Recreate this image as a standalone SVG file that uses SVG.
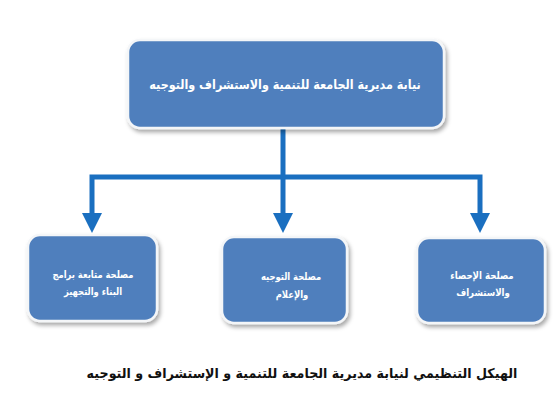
<svg xmlns="http://www.w3.org/2000/svg" width="557" height="400" viewBox="0 0 557 400">
<style>
.box{fill:#4f7fbd;stroke:#f4f6f8;stroke-width:2.5;filter:url(#sh)}
.t{font-family:"DejaVu Sans","Noto Sans",sans-serif;font-weight:bold;fill:#ffffff;text-anchor:middle;direction:rtl}
.s{font-size:10.5px}
.c{stroke:#1a6fc0;stroke-width:5;fill:none;stroke-linejoin:miter}
.cap{font-family:"DejaVu Sans","Noto Sans",sans-serif;font-weight:bold;fill:#111111;text-anchor:middle;direction:rtl;font-size:13.5px}
</style>
<defs>
<filter id="sh" x="-10%" y="-10%" width="125%" height="130%">
<feDropShadow dx="2" dy="3" stdDeviation="2" flood-color="#000" flood-opacity="0.35"/>
</filter>
<marker id="ah" viewBox="0 0 10 10" refX="0" refY="5" markerWidth="4" markerHeight="4" orient="auto-start-reverse" markerUnits="strokeWidth">
<path d="M0,0 L10,5 L0,10 Z" fill="#1a6fc0"/>
</marker>
</defs>
<rect width="557" height="400" fill="#ffffff"/>
<g id="connectors">
<path class="c" d="M92,213 V177 H480 V213" marker-start="url(#ah)" marker-end="url(#ah)"/>
<path class="c" d="M283,128 V213" marker-end="url(#ah)"/>
</g>
<g id="top">
<rect class="box" x="128" y="40" width="316" height="88" rx="12"/>
<text class="t" transform="translate(285,89) scale(0.86,1)" font-size="13">نيابة مديرية الجامعة للتنمية والاستشراف والتوجيه</text>
</g>
<g id="left">
<rect class="box" x="28" y="235" width="129" height="86" rx="12"/>
<text class="t s" transform="translate(93,278) scale(0.8,1)">مصلحة متابعة برامج</text>
<text class="t s" transform="translate(93,295) scale(0.8,1)">البناء والتجهيز</text>
</g>
<g id="middle">
<rect class="box" x="222" y="237" width="125" height="86" rx="12"/>
<text class="t s" transform="translate(291,280) scale(0.8,1)">مصلحة التوجيه</text>
<text class="t s" transform="translate(292,298) scale(0.8,1)">والإعلام</text>
</g>
<g id="right">
<rect class="box" x="417" y="238" width="128" height="85" rx="12"/>
<text class="t s" transform="translate(482,279) scale(0.82,1)">مصلحة الإحصاء</text>
<text class="t s" transform="translate(483,296) scale(0.82,1)">والاستشراف</text>
</g>
<g id="caption">
<text class="cap" transform="translate(302,378) scale(0.94,1)">الهيكل التنظيمي لنيابة مديرية الجامعة للتنمية و الإستشراف و التوجيه</text>
</g>
</svg>
